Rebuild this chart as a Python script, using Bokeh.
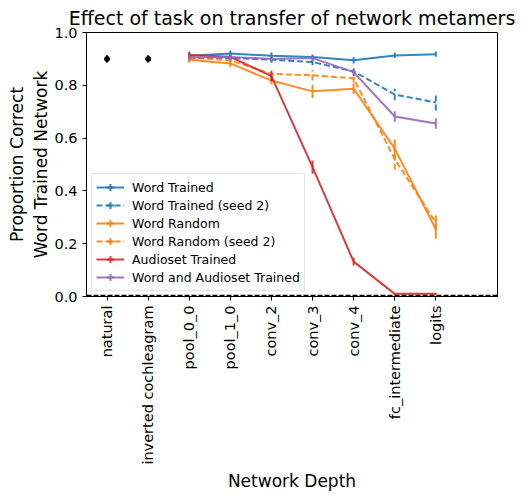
import math
import numpy as np
from bokeh.plotting import figure
from bokeh.models import (ColumnDataSource, Span, Legend, LegendItem, FixedTicker,
                          Range1d, NumeralTickFormatter)
from bokeh.embed import file_html
from bokeh.resources import INLINE

# ---------------- data ----------------
layers = ["natural", "inverted cochleagram", "pool_0_0", "pool_1_0", "conv_2",
          "conv_3", "conv_4", "fc_intermediate", "logits"]
baseline_layers = ["natural", "inverted cochleagram"]
baseline_mean = [0.90, 0.90]
baseline_err = [0.014, 0.014]

model_layers = ["pool_0_0", "pool_1_0", "conv_2", "conv_3", "conv_4", "fc_intermediate", "logits"]

word_trained = [0.912, 0.920, 0.912, 0.907, 0.895, 0.913, 0.918]
word_trained_err = [0.012, 0.012, 0.012, 0.010, 0.012, 0.010, 0.010]
word_trained_s2 = [0.905, 0.903, 0.897, 0.888, 0.853, 0.765, 0.735]
word_trained_s2_err = [0.012, 0.010, 0.012, 0.012, 0.015, 0.022, 0.030]
word_random = [0.897, 0.883, 0.818, 0.777, 0.787, 0.560, 0.255]
word_random_err = [0.012, 0.015, 0.015, 0.025, 0.020, 0.035, 0.035]
word_random_s2 = [0.905, 0.895, 0.843, 0.838, 0.826, 0.520, 0.280]
word_random_s2_err = [0.012, 0.010, 0.015, 0.020, 0.015, 0.040, 0.030]
audioset = [0.915, 0.908, 0.835, 0.490, 0.132, 0.010, 0.010]
audioset_err = [0.012, 0.010, 0.020, 0.025, 0.015, 0.003, 0.003]
word_audioset = [0.905, 0.907, 0.900, 0.903, 0.850, 0.682, 0.655]
word_audioset_err = [0.010, 0.010, 0.010, 0.010, 0.015, 0.020, 0.020]

chance = 1.0 / 794

y_ticks = [0.0, 0.2, 0.4, 0.6, 0.8, 1.0]

series = [
    ("Word Trained", word_trained, word_trained_err, "#1f77b4", "solid"),
    ("Word Trained (seed 2)", word_trained_s2, word_trained_s2_err, "#1f77b4", "6 3"),
    ("Word Random", word_random, word_random_err, "#ff7f0e", "solid"),
    ("Word Random (seed 2)", word_random_s2, word_random_s2_err, "#ff7f0e", "6 3"),
    ("Audioset Trained", audioset, audioset_err, "#d62728", "solid"),
    ("Word and Audioset Trained", word_audioset, word_audioset_err, "#9467bd", "solid"),
]

# ---------------- figure ----------------
p = figure(width=523, height=494, output_backend="svg", toolbar_location=None,
           x_range=Range1d(-0.5, len(layers) + 0.5), y_range=Range1d(0, 1.0),
           min_border_left=86, min_border_right=26, min_border_top=30,
           min_border_bottom=198)

FONT = "DejaVu Sans"
p.title.text = "Effect of task on transfer of network metamers"
p.title.text_font = FONT
p.title.text_font_size = "19px"
p.title.text_font_style = "normal"
p.title.align = "center"
p.title.text_color = "black"
p.title.standoff = 8

p.grid.visible = False
p.outline_line_color = "black"
p.outline_line_width = 1

pos = {name: i for i, name in enumerate(layers)}

p.xaxis.ticker = FixedTicker(ticks=list(range(len(layers))))
p.xaxis.major_label_overrides = {i: name for i, name in enumerate(layers)}
p.xaxis.major_label_orientation = math.pi / 2
p.yaxis.ticker = FixedTicker(ticks=y_ticks)
p.yaxis.formatter = NumeralTickFormatter(format="0.0")

for ax in p.axis:
    ax.axis_line_color = "black"
    ax.major_tick_line_color = "black"
    ax.major_tick_out = 4
    ax.major_tick_in = 0
    ax.minor_tick_line_color = None
    ax.major_label_text_font = FONT
    ax.major_label_text_font_size = "14.5px"
    ax.major_label_text_color = "black"
    ax.axis_label_text_font = FONT
    ax.axis_label_text_font_size = "17px"
    ax.axis_label_text_font_style = "normal"
    ax.axis_label_text_color = "black"

p.xaxis.major_label_standoff = 5
p.yaxis.major_label_standoff = 5
p.xaxis.axis_label = "Network Depth"
p.xaxis.axis_label_standoff = 3
p.yaxis.axis_label = "Proportion Correct\nWord Trained Network"
p.yaxis.axis_label_standoff = 0

# chance line
p.add_layout(Span(location=chance, dimension="width", line_color="black",
                  line_dash="5 2", line_width=3))

# baseline points
bx = [pos[n] for n in baseline_layers]
bsrc = ColumnDataSource(dict(x=bx, y=baseline_mean,
                             lo=np.array(baseline_mean) - np.array(baseline_err),
                             hi=np.array(baseline_mean) + np.array(baseline_err)))
p.segment(x0="x", y0="lo", x1="x", y1="hi", source=bsrc, line_color="black", line_width=2)
p.scatter(x="x", y="y", source=bsrc, marker="circle", size=5, color="black")

items = []
mx = [pos[n] for n in model_layers]
for label, vals, err, color, dash in series:
    v = np.array(vals)
    e = np.array(err)
    src = ColumnDataSource(dict(x=mx, y=v, lo=v - e, hi=v + e))
    r = p.line(x="x", y="y", source=src, line_color=color, line_width=2,
               line_dash=dash, line_alpha=0.9)
    s = p.segment(x0="x", y0="lo", x1="x", y1="hi", source=src, line_color=color,
                  line_width=2, line_dash=dash, line_alpha=0.9)
    proxy = p.scatter(x="x", y="y", source=src, marker="cross", size=10,
                      line_color=color, line_width=2, line_alpha=0.9, visible=False)
    items.append(LegendItem(label=label, renderers=[r, proxy]))

legend = Legend(items=items, location="bottom_left", margin=5, padding=4,
                spacing=0, glyph_width=28, glyph_height=18, label_height=18,
                label_standoff=8, label_text_font=FONT, label_text_font_size="12.5px",
                label_text_color="black", border_line_color="#cccccc",
                background_fill_alpha=0.8)
p.add_layout(legend)

open("out.html", "w").write(file_html(p, INLINE))
